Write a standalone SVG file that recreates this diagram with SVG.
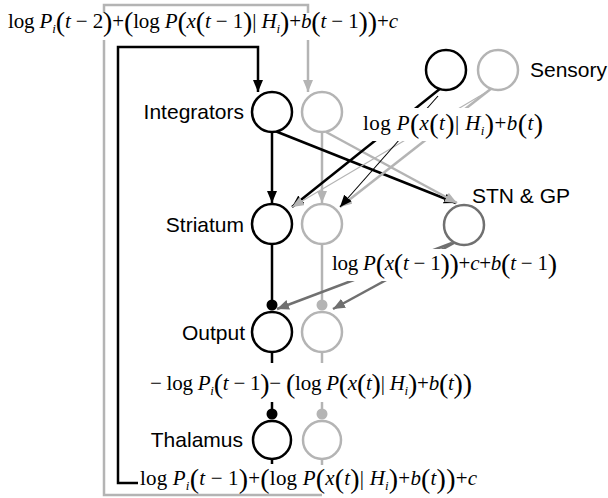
<svg xmlns="http://www.w3.org/2000/svg" width="608" height="498" viewBox="0 0 608 498">
<style>
.lbl{font-family:"Liberation Sans",Arial,sans-serif;font-size:21px;fill:#000}
.m{font-family:"Liberation Serif","Times New Roman",serif;font-size:21px;fill:#000}
.i{font-style:italic}
.p{font-size:28px;baseline-shift:-3px}
.sub{font-size:13px;baseline-shift:-5px}
.k{stroke:#000;stroke-width:2.5;fill:none}
.g{stroke:#b4b4b4;stroke-width:2.5;fill:none}
.d{stroke:#707070;stroke-width:2.5;fill:none}
.kt{stroke:#000;stroke-width:1.1;fill:none}
.gt{stroke:#b4b4b4;stroke-width:1.1;fill:none}
.nk{stroke:#000;stroke-width:2.5;fill:#fff}
.ng{stroke:#b4b4b4;stroke-width:2.5;fill:#fff}
.nd{stroke:#707070;stroke-width:2.5;fill:#fff}
.mask{fill:#fff}
</style>
<defs>
<marker id="ak" markerUnits="userSpaceOnUse" markerWidth="13" markerHeight="11" refX="12" refY="5" orient="auto"><path d="M0,0 L12,5 L0,10 z" fill="#000"/></marker>
<marker id="ag" markerUnits="userSpaceOnUse" markerWidth="13" markerHeight="11" refX="12" refY="5" orient="auto"><path d="M0,0 L12,5 L0,10 z" fill="#b4b4b4"/></marker>
<marker id="ad" markerUnits="userSpaceOnUse" markerWidth="13" markerHeight="11" refX="12" refY="5" orient="auto"><path d="M0,0 L12,5 L0,10 z" fill="#707070"/></marker>
</defs>
<rect width="608" height="498" fill="#fff"/>
<g id="connectors">
<path class="g" d="M322,459 V465"/>
<path class="g" d="M322,495 H104 V5 H308 V13"/>
<path class="g" d="M308,40 V92" marker-end="url(#ag)"/>
<path class="k" d="M138,483 H118 V47 H258 V92" marker-end="url(#ak)"/>
<path class="k" d="M272,131 V203" marker-end="url(#ak)"/>
<path class="g" d="M322,131 V203" marker-end="url(#ag)"/>
<path class="k" d="M275,131 L456,203" marker-end="url(#ak)"/>
<path class="g" d="M326,132 L457,203" marker-end="url(#ag)"/>
<path class="k" d="M441,88 L292,207" marker-end="url(#ak)"/>
<path class="gt" d="M490,90 L292,207" marker-end="url(#ag)"/>
<path class="g" d="M492,88 L340,207" marker-end="url(#ag)"/>
<path class="kt" d="M438,96 L340,207" marker-end="url(#ak)"/>
<path class="k" d="M272,244 V305"/>
<circle cx="272" cy="305" r="5.5" fill="#000"/>
<path class="g" d="M322,244 V305"/>
<circle cx="322" cy="305" r="5.5" fill="#b4b4b4"/>
<path class="d" d="M452,243 L277,309" marker-end="url(#ad)"/>
<path class="d" d="M454,243 L333,309" marker-end="url(#ad)"/>
<path class="k" d="M272,352 V363"/>
<path class="k" d="M272,402 V414"/>
<circle cx="272" cy="414" r="5.5" fill="#000"/>
<path class="g" d="M322,352 V363"/>
<path class="g" d="M322,402 V414"/>
<circle cx="322" cy="414" r="5.5" fill="#b4b4b4"/>
<path class="k" d="M272,459 V464"/>
</g>
<g id="eq-top">
<rect class="mask" x="4" y="13" width="398" height="27"/>
<text class="m" x="8" y="28" textLength="390">log <tspan class="i">P</tspan><tspan class="i sub">i</tspan><tspan class="p">(</tspan><tspan class="i">t</tspan> − 2<tspan class="p">)</tspan>+<tspan class="p">(</tspan>log <tspan class="i">P</tspan><tspan class="p">(</tspan><tspan class="i">x</tspan><tspan class="p">(</tspan><tspan class="i">t</tspan> − 1<tspan class="p">)</tspan>| <tspan class="i">H</tspan><tspan class="i sub">i</tspan><tspan class="p">)</tspan>+<tspan class="i">b</tspan><tspan class="p">(</tspan><tspan class="i">t</tspan> − 1<tspan class="p">))</tspan>+<tspan class="i">c</tspan></text>
</g>
<g id="eq-sensory">
<rect class="mask" x="360" y="108" width="188" height="33"/>
<text class="m" x="363" y="130" textLength="180">log <tspan class="i">P</tspan><tspan class="p">(</tspan><tspan class="i">x</tspan><tspan class="p">(</tspan><tspan class="i">t</tspan><tspan class="p">)</tspan>| <tspan class="i">H</tspan><tspan class="i sub">i</tspan><tspan class="p">)</tspan>+<tspan class="i">b</tspan><tspan class="p">(</tspan><tspan class="i">t</tspan><tspan class="p">)</tspan></text>
</g>
<g id="eq-stn">
<rect class="mask" x="329" y="249" width="232" height="32"/>
<text class="m" x="332" y="270" textLength="225">log <tspan class="i">P</tspan><tspan class="p">(</tspan><tspan class="i">x</tspan><tspan class="p">(</tspan><tspan class="i">t</tspan> − 1<tspan class="p">))</tspan>+<tspan class="i">c</tspan>+<tspan class="i">b</tspan><tspan class="p">(</tspan><tspan class="i">t</tspan> − 1<tspan class="p">)</tspan></text>
</g>
<g id="eq-output">
<text class="m" x="150" y="390" textLength="322">− log <tspan class="i">P</tspan><tspan class="i sub">i</tspan><tspan class="p">(</tspan><tspan class="i">t</tspan> − 1<tspan class="p">)</tspan>− <tspan class="p">(</tspan>log <tspan class="i">P</tspan><tspan class="p">(</tspan><tspan class="i">x</tspan><tspan class="p">(</tspan><tspan class="i">t</tspan><tspan class="p">)</tspan>| <tspan class="i">H</tspan><tspan class="i sub">i</tspan><tspan class="p">)</tspan>+<tspan class="i">b</tspan><tspan class="p">(</tspan><tspan class="i">t</tspan><tspan class="p">))</tspan></text>
</g>
<g id="eq-thalamus">
<text class="m" x="140" y="485" textLength="337">log <tspan class="i">P</tspan><tspan class="i sub">i</tspan><tspan class="p">(</tspan><tspan class="i">t</tspan> − 1<tspan class="p">)</tspan>+<tspan class="p">(</tspan>log <tspan class="i">P</tspan><tspan class="p">(</tspan><tspan class="i">x</tspan><tspan class="p">(</tspan><tspan class="i">t</tspan><tspan class="p">)</tspan>| <tspan class="i">H</tspan><tspan class="i sub">i</tspan><tspan class="p">)</tspan>+<tspan class="i">b</tspan><tspan class="p">(</tspan><tspan class="i">t</tspan><tspan class="p">))</tspan>+<tspan class="i">c</tspan></text>
</g>
<g id="integrators-a"><circle class="nk" cx="272" cy="112" r="20"/><text class="lbl" x="244" y="119" text-anchor="end">Integrators</text></g>
<g id="integrators-b"><circle class="ng" cx="322" cy="112" r="20"/></g>
<g id="striatum-a"><circle class="nk" cx="272" cy="224" r="20"/><text class="lbl" x="244" y="232" text-anchor="end">Striatum</text></g>
<g id="striatum-b"><circle class="ng" cx="322" cy="224" r="20"/></g>
<g id="output-a"><circle class="nk" cx="272" cy="332" r="20"/><text class="lbl" x="245" y="340" text-anchor="end">Output</text></g>
<g id="output-b"><circle class="ng" cx="322" cy="332" r="20"/></g>
<g id="thalamus-a"><circle class="nk" cx="272" cy="440" r="19"/><text class="lbl" x="243" y="447" text-anchor="end">Thalamus</text></g>
<g id="thalamus-b"><circle class="ng" cx="322" cy="440" r="19"/></g>
<g id="sensory-a"><circle class="nk" cx="446" cy="70" r="20"/></g>
<g id="sensory-b"><circle class="ng" cx="498" cy="70" r="20"/><text class="lbl" x="530" y="77">Sensory</text></g>
<g id="stn-gp"><circle class="nd" cx="464" cy="225" r="20"/><text class="lbl" x="472" y="203">STN &amp; GP</text></g>
</svg>
